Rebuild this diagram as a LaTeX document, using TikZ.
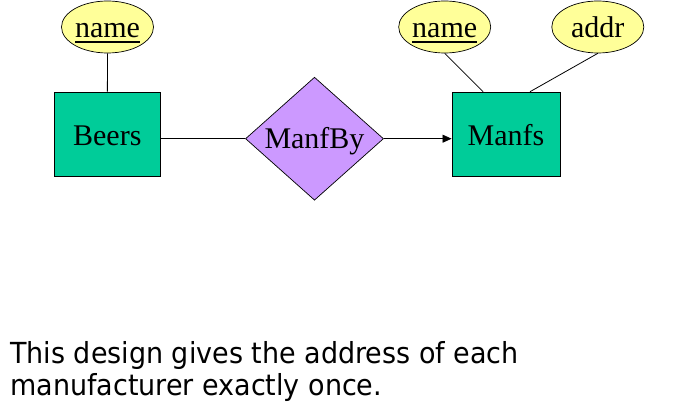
\documentclass[tikz,border=0pt]{standalone}
\usepackage{fontspec}
\setmainfont{Liberation Serif}
\newfontfamily\capfont[FakeStretch=0.93]{DejaVu Sans}
\usetikzlibrary{shapes.geometric,arrows.meta,calc}
\definecolor{entfill}{RGB}{0,204,153}
\definecolor{relfill}{RGB}{204,153,255}
\definecolor{attfill}{RGB}{255,255,153}
\newcommand\keyul[1]{\setbox0=\hbox{#1}\leavevmode\rlap{\vrule width\wd0 height -3.6pt depth 4.9pt}\box0}
\begin{document}
\begin{tikzpicture}[x=1pt,y=-1pt,
  every node/.style={font=\fontsize{30}{32}\selectfont},
  entity/.style={draw=black,line width=0.9pt,fill=entfill,rectangle,minimum height=84,inner sep=0pt,text height=29pt,text depth=6pt},
  attr/.style={draw=black,line width=0.7pt,fill=attfill,ellipse,minimum width=92,minimum height=52,inner sep=0pt,text height=27.4pt,text depth=6pt},
  rel/.style={draw=black,line width=0.7pt,fill=relfill,diamond,aspect=1.12,minimum width=138,minimum height=123,inner sep=0pt,text height=26.6pt,text depth=6pt},
  conn/.style={draw=black,line width=0.8pt},
  capt/.style={font=\capfont\fontsize{29}{32}\selectfont,anchor=base west,inner sep=0pt}]
\useasboundingbox (0,0) rectangle (693,414);
\node[attr] (n1) at (107.5,27) {\keyul{name}};
\node[attr] (n2) at (444.7,27) {\keyul{name}};
\node[attr] (ad) at (597.8,27) {addr};
\node[entity,minimum width=106] (beers) at (107.3,134.2) {Beers};
\node[entity,minimum width=108] (manfs) at (506,134.2) {Manfs};
\node[rel] (mb) at (314.5,138.7) {ManfBy};
\draw[conn] (n1) -- (beers);
\draw[conn] (n2.south) -- ($(manfs.north west)!0.29!(manfs.north east)$);
\draw[conn] (ad.south) -- ($(manfs.north west)!0.72!(manfs.north east)$);
\draw[conn] (mb.west) -- (beers.east |- mb.west);
\draw[conn,-{Triangle[length=9pt,width=8pt]}] (mb.east) -- (manfs.west |- mb.east);
\node[capt] (t1) at (10,363.3) {This design gives the address of each};
\node[capt] (t2) at (10,395.7) {manufacturer exactly once.};
\end{tikzpicture}
\end{document}
